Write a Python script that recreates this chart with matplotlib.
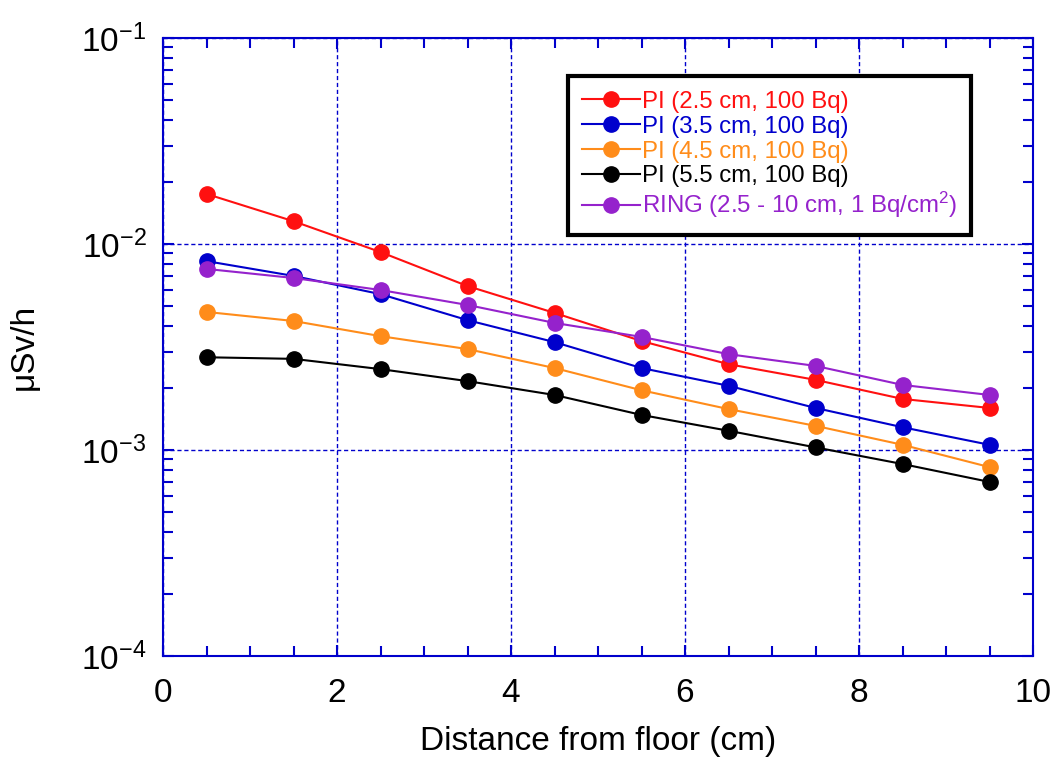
import matplotlib
matplotlib.use('Agg')
import matplotlib.pyplot as plt
from matplotlib.ticker import MultipleLocator, LogLocator, NullFormatter
import numpy as np

plt.rcParams['font.family'] = ['Liberation Sans', 'DejaVu Sans']
plt.rcParams['mathtext.fontset'] = 'custom'
plt.rcParams['mathtext.rm'] = 'Liberation Sans'
plt.rcParams['mathtext.it'] = 'Liberation Sans:italic'

distance = [0.5, 1.5, 2.5, 3.5, 4.5, 5.5, 6.5, 7.5, 8.5, 9.5]

pi_25 = [0.0175, 0.0129, 0.00914, 0.00625, 0.00463, 0.00338, 0.00261, 0.00219, 0.00177, 0.00160]
pi_35 = [0.00826, 0.0070, 0.00571, 0.00427, 0.00334, 0.00250, 0.00205, 0.00160, 0.00129, 0.00106]
pi_45 = [0.00468, 0.00423, 0.00357, 0.00309, 0.00250, 0.00195, 0.00158, 0.00131, 0.00106, 0.000826]
pi_55 = [0.00282, 0.00277, 0.00247, 0.00216, 0.00185, 0.00148, 0.00124, 0.00103, 0.000855, 0.000700]
ring = [0.00757, 0.00684, 0.00598, 0.00506, 0.00414, 0.00354, 0.00292, 0.00256, 0.00207, 0.00185]

labels = ['PI (2.5 cm, 100 Bq)', 'PI (3.5 cm, 100 Bq)', 'PI (4.5 cm, 100 Bq)',
          'PI (5.5 cm, 100 Bq)', 'RING (2.5 - 10 cm, 1 Bq/cm$^2$)']
colors = ['#FF1010', '#0000CC', '#FF8C1A', '#000000', '#9522CC']
series = [pi_25, pi_35, pi_45, pi_55, ring]

blue = '#0000CC'

fig = plt.figure(figsize=(10.62, 7.62), dpi=100)
ax = fig.add_axes([0.1535, 0.1391, 0.8192, 0.8110])

for ys, c, lab in zip(series, colors, labels):
    ax.plot(distance, ys, '-o', color=c, lw=1.5, ms=11, label=lab)

ax.set_yscale('log')
ax.set_xlim(0, 10)
ax.set_ylim(1e-4, 1e-1)

ax.xaxis.set_major_locator(MultipleLocator(2))
ax.xaxis.set_minor_locator(MultipleLocator(0.5))
ax.yaxis.set_minor_locator(LogLocator(base=10, subs=np.arange(2, 10), numticks=20))
ax.yaxis.set_minor_formatter(NullFormatter())
ax.set_yticks([1e-4, 1e-3, 1e-2, 1e-1])
ax.set_yticklabels([r'$\mathregular{10^{-4}}$', r'$\mathregular{10^{-3}}$',
                    r'$\mathregular{10^{-2}}$', r'$\mathregular{10^{-1}}$'])

for sp in ax.spines.values():
    sp.set_color(blue)
    sp.set_linewidth(1.5)

ax.tick_params(which='both', direction='in', color=blue, width=1.5,
               top=True, right=True, labelsize=24)
ax.tick_params(axis='x', pad=16)
ax.tick_params(axis='y', pad=12)
ax.tick_params(which='major', length=8)
ax.tick_params(which='minor', length=7)

ax.grid(True, which='major', color=blue, linestyle=(0, (3, 2)), lw=1)

ax.set_xlabel('Distance from floor (cm)', fontsize=24, labelpad=12)
ax.set_ylabel('μSv/h', fontsize=24, labelpad=30)

leg = ax.legend(loc='upper left', bbox_to_anchor=(0.465, 0.938), fontsize=17.3,
                labelcolor='linecolor', handlelength=2.4, handletextpad=0.1,
                labelspacing=0.12, borderpad=0.6, fancybox=False, framealpha=1,
                borderaxespad=0)
leg.get_frame().set_edgecolor('black')
leg.get_frame().set_linewidth(3)

fig.savefig('out.png', dpi=100)
